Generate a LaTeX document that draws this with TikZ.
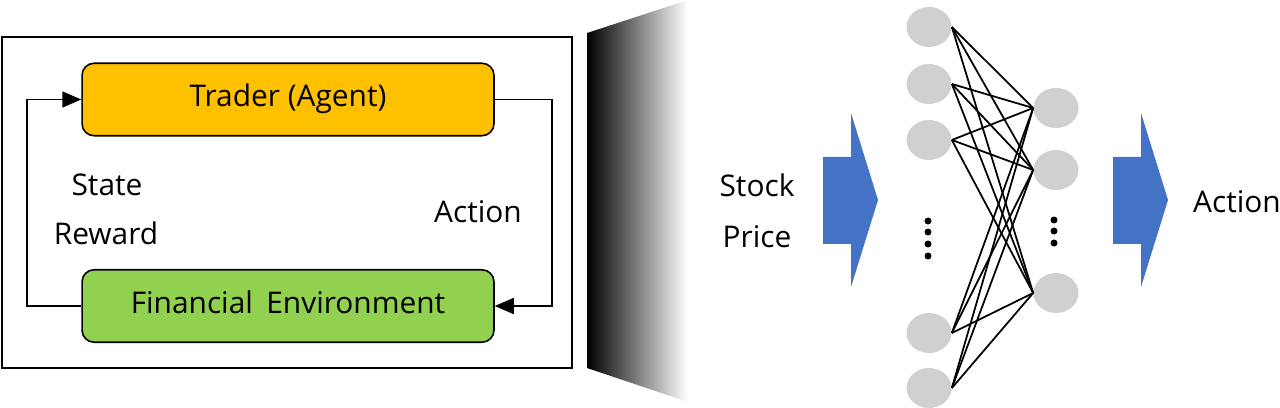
\documentclass[tikz,border=0pt]{standalone}
\usepackage{fontspec}
\setmainfont{Open Sans}
\usetikzlibrary{arrows.meta,shapes.geometric}
\definecolor{traderOrange}{RGB}{255,192,0}
\definecolor{envGreen}{RGB}{146,208,80}
\definecolor{arrowBlue}{RGB}{68,114,196}
\definecolor{neuronGray}{RGB}{208,208,208}

\begin{document}
\begin{tikzpicture}[x=0.02cm,y=-0.02cm,%%
  every node/.style={font=\fontsize{17}{20}\selectfont},%%
  boxStyle/.style={draw,line width=0.9pt,rounded corners=0.24cm,%%
    minimum width=8.24cm,minimum height=1.45cm,text height=0.8em,text depth=0pt},%%
  arrowStyle/.style={-{Triangle[length=0.38cm,width=0.32cm]},line width=0.9pt},%%
  labelStyle/.style={anchor=base,inner sep=0pt},%%
  neuronStyle/.style={ellipse,fill=neuronGray,minimum width=0.9cm,minimum height=0.8cm,inner sep=0pt},%%
  netLine/.style={-,line width=1pt}%%
]
%%
%%
\pgfmathsetmacro{\inX}{929}
\pgfmathsetmacro{\outX}{1056}
\pgfmathsetmacro{\dotR}{3.5}
%%
\useasboundingbox (0,0) rectangle (1280,408);
%%
%% Draw the frame around the loop.
\draw[line width=1.1pt] (2,37) rectangle (572,368);
%% The two boxes of the loop.
\node[boxStyle,fill=traderOrange] (trader) at (288,99.5) {Trader (Agent)};
\node[boxStyle,fill=envGreen] (env) at (288,306) {Financial\hspace{0.45em}Environment};
%% The loop connectors.
\draw[arrowStyle] (trader.east) -- ++(57,0) |- (env.east);
\draw[arrowStyle] (env.west) -- ++(-54,0) |- (trader.west);
%% Label the connectors.
\node[labelStyle] (state) at (107,196) {State};
\node[labelStyle] (reward) at (106,245) {Reward};
\node[labelStyle] (action) at (478,223) {Action};
%%
%% The shaded zoom wedge.
\shade[left color=black,right color=white] (587,33) -- (688,0) -- (688,402) -- (587,368) -- cycle;
%%
%% Input and output arrows.
\foreach \ax in {823,1113}
  \fill[arrowBlue] (\ax,157) -- (\ax+28,157) -- (\ax+28,113) -- (\ax+55,200)
    -- (\ax+28,287) -- (\ax+28,244) -- (\ax,244) -- cycle;
\node[labelStyle] (stock) at (757,197) {Stock};
\node[labelStyle] (price) at (757,248) {Price};
\node[labelStyle] (output) at (1237,213) {Action};
%%
%% The neurons.
\foreach \name/\yy in {in1/27,in2/84,in3/140,in4/333,in5/388}
  \node[neuronStyle] (\name) at (\inX,\yy) {};
\foreach \name/\yy in {out1/108,out2/170,out3/293}
  \node[neuronStyle] (\name) at (\outX,\yy) {};
%% Connect every input to every output.
\foreach \i in {1,...,5}
  \foreach \j in {1,2,3}
    \draw[netLine] (in\i.east) -- (out\j.west);
%% The dots for the hidden neurons.
\foreach \yy in {221,232,244,256}
  \fill (\inX-1,\yy) circle[radius=\dotR];
\foreach \yy in {220,231,243}
  \fill (\outX-2,\yy) circle[radius=\dotR];
\end{tikzpicture}
\end{document}
